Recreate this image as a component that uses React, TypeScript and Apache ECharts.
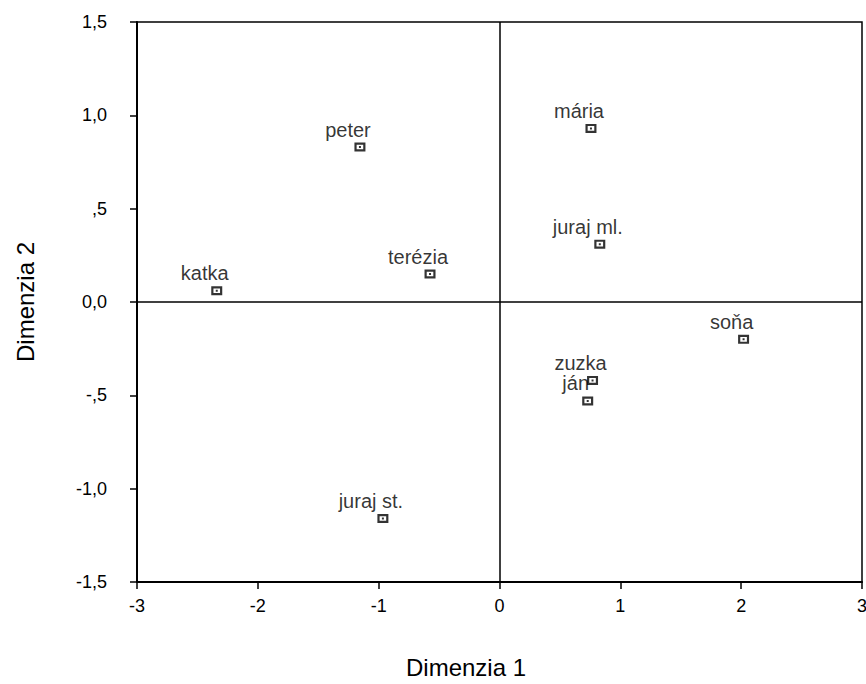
import React, { useEffect, useRef } from "react";
import * as echarts from "echarts";

const names = ["katka", "peter", "terézia", "juraj st.", "mária", "juraj ml.", "soňa", "zuzka", "ján"];
const dim1 = [-2.34, -1.155, -0.575, -0.965, 0.757, 0.83, 2.02, 0.77, 0.73];
const dim2 = [0.06, 0.83, 0.15, -1.16, 0.93, 0.31, -0.2, -0.42, -0.53];
const xTicks = [-3, -2, -1, 0, 1, 2, 3];
const yTicks = [-1.5, -1, -0.5, 0, 0.5, 1, 1.5];

const fmtY = (v: number) => {
  const s = v.toFixed(1).replace(".", ",");
  if (s.startsWith("0,") && v !== 0) return s.slice(1);
  if (s.startsWith("-0,")) return "-" + s.slice(2);
  return s;
};

const markerPath =
  "path://M0,0H11V9H0Z M2.2,2.2V6.8H8.8V2.2Z M4.5,3.5H6.5V5.5H4.5Z";

export default function App() {
  const ref = useRef<HTMLDivElement>(null);
  useEffect(() => {
    if (!ref.current) return;
    const chart = echarts.init(ref.current, undefined, { renderer: "svg" });
    const font = "Liberation Sans, Arial, sans-serif";
    chart.setOption({
      animation: false,
      textStyle: { fontFamily: font },
      grid: {
        left: 137,
        right: 4,
        top: 22,
        bottom: 102,
        outerBoundsMode: "none",
        containLabel: false,
        show: true,
        borderColor: "#000",
        borderWidth: 1.5,
        backgroundColor: "transparent",
      },
      graphic: [
        {
          type: "text",
          x: 466,
          y: 667,
          style: {
            text: "Dimenzia 1",
            fill: "#000",
            fontSize: 24,
            fontFamily: font,
            align: "center",
            verticalAlign: "middle",
          },
        },
        {
          type: "text",
          x: 25,
          y: 302,
          rotation: Math.PI / 2,
          style: {
            text: "Dimenzia 2",
            fill: "#000",
            fontSize: 24,
            fontFamily: font,
            align: "center",
            verticalAlign: "middle",
          },
        },
      ],
      xAxis: {
        type: "value",
        min: -3,
        max: 3,
        interval: 1,
        axisLine: { show: true, onZero: false, lineStyle: { color: "#000", width: 2 } },
        axisTick: { show: true, length: 7, lineStyle: { color: "#000", width: 1.5 } },
        axisLabel: {
          color: "#000",
          fontSize: 18,
          margin: 15,
          fontFamily: font,
          formatter: (v: number) => (xTicks.includes(v) ? String(v) : ""),
        },
        splitLine: { show: false },
      },
      yAxis: {
        type: "value",
        min: -1.5,
        max: 1.5,
        interval: 0.5,
        axisLine: { show: true, onZero: false, lineStyle: { color: "#000", width: 2 } },
        axisTick: { show: true, length: 7, lineStyle: { color: "#000", width: 1.5 } },
        axisLabel: {
          color: "#000",
          fontSize: 18,
          margin: 30,
          fontFamily: font,
          formatter: (v: number) => (yTicks.some((t) => Math.abs(t - v) < 1e-9) ? fmtY(v) : ""),
        },
        splitLine: { show: false },
      },
      series: [
        {
          type: "scatter",
          data: names.map((n, i) => ({ name: n, value: [dim1[i], dim2[i]] })),
          symbol: markerPath,
          symbolSize: [11, 9],
          itemStyle: { color: "#000" },
          label: {
            show: true,
            position: "top",
            distance: 3,
            offset: [-12, 0],
            formatter: (p: any) => p.name,
            color: "#000",
            fontSize: 20,
            fontFamily: font,
          },
          markLine: {
            silent: true,
            symbol: "none",
            label: { show: false },
            lineStyle: { color: "#000", width: 1.5, type: "solid" },
            data: [{ xAxis: 0 }, { yAxis: 0 }],
          },
          z: 3,
        },
      ],
    });
    return () => chart.dispose();
  }, []);
  return (
    <div
      ref={ref}
      style={{ position: "absolute", left: 0, top: 0, width: 866, height: 684 }}
    />
  );
}
